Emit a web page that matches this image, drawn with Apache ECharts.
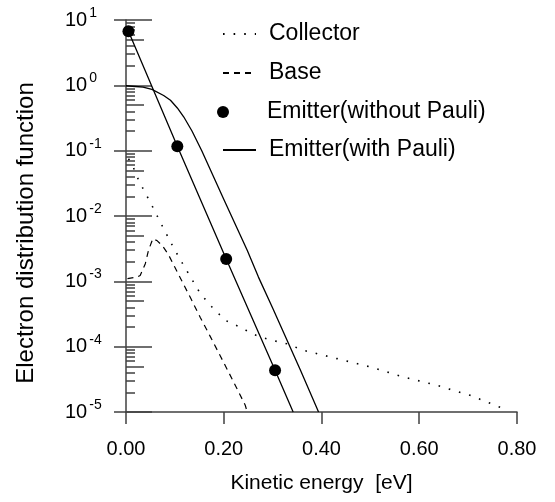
<!DOCTYPE html>
<html>
<head>
<meta charset="utf-8">
<script src="https://cdn.jsdelivr.net/npm/echarts@6/dist/echarts.min.js"></script>
<style>
  html, body { margin: 0; padding: 0; background: #fff; }
  #chart { width: 555px; height: 502px; }
</style>
</head>
<body>
<div id="chart"></div>
<script>
// values (energy in eV, distribution function)
const collectorE = [0.005, 0.012, 0.026, 0.053, 0.077, 0.097, 0.118, 0.142, 0.152, 0.176, 0.203, 0.24, 0.254, 0.275, 0.299, 0.329, 0.363, 0.432, 0.5, 0.568, 0.636, 0.704, 0.772, 0.78]
const collectorF = [0.075, 0.063, 0.035, 0.0145, 0.0064, 0.0033, 0.00175, 0.00087, 0.00065, 0.000405, 0.000253, 0.000189, 0.000162, 0.000141, 0.000125, 0.000111, 0.000088, 0.0000656, 0.0000489, 0.0000343, 0.0000256, 0.000018, 0.0000113, 0.0000105]

const baseE = [0.003, 0.0225, 0.029, 0.0395, 0.046, 0.055, 0.064, 0.075, 0.087, 0.1, 0.1146, 0.133, 0.152, 0.172, 0.193, 0.22, 0.244, 0.248]
const baseF = [0.0011, 0.00116, 0.00123, 0.00186, 0.00298, 0.0045, 0.00417, 0.00347, 0.00255, 0.00164, 0.001, 0.00054, 0.00028, 0.000145, 0.000072, 0.000029, 0.0000127, 0.00001]

const noPauliE = [0.005, 0.105, 0.205, 0.305, 0.342]
const noPauliF = [6.74, 0.117, 0.0022, 0.0000435, 0.00001]
const noPauliDots = 4 // the last point only ends the line

const pauliE = [0, 0.02, 0.035, 0.053, 0.077, 0.091, 0.105, 0.118, 0.135, 0.155, 0.2, 0.248, 0.271, 0.3, 0.357, 0.394]
const pauliF = [0.985, 0.96, 0.937, 0.865, 0.7, 0.59, 0.45, 0.33, 0.2, 0.1, 0.018, 0.003, 0.00116, 0.00039, 0.0000435, 0.00001]

const xTicks = [0, 0.2, 0.4, 0.6, 0.8]
const yDecades = [1e-5, 1e-4, 1e-3, 1e-2, 1e-1, 1, 10]
const minorMant = [2, 3, 4, 6, 7, 8, 9]

const font = 'Liberation Sans, Arial, Helvetica, sans-serif'
const axisColor = '#404040'

const pairs = (xs, ys) => xs.map((x, i) => [x, ys[i]])

// minor tick positions inside each decade
const minorVals = []
const fiveVals = []
yDecades.slice(0, -1).forEach(d => {
  minorMant.forEach(m => minorVals.push(+(d * m).toPrecision(3)))
  fiveVals.push(+(d * 5).toPrecision(3))
})

const logAxis = extra => Object.assign({
  type: 'log',
  logBase: 10,
  min: 1e-5,
  max: 10,
  position: 'left',
  axisLine: { show: false },
  splitLine: { show: false },
  axisLabel: { show: false },
  axisTick: { show: false }
}, extra)

const tickStyle = { color: axisColor, width: 1.5 }

// one legend per row so the dot can sit left like in the original
const legendRow = (name, top, extra) => Object.assign({
  data: [name],
  left: 222,
  top,
  orient: 'vertical',
  padding: 0,
  itemWidth: 33,
  itemHeight: 12,
  selectedMode: false,
  itemStyle: { opacity: 0 }, // hide the symbol drawn on line icons
  textStyle: { fontSize: 23, fontFamily: font, color: '#000', lineHeight: 24, padding: [0, 0, 0, 8] }
}, extra)

const chart = echarts.init(document.getElementById('chart'))

chart.setOption({
  animation: false,
  backgroundColor: '#fff',
  textStyle: { fontFamily: font },
  grid: { left: 126, right: 38, top: 20, bottom: 90, containLabel: false },
  legend: [
    legendRow('Collector', 22),
    legendRow('Base', 61),
    legendRow({ name: 'Emitter(without Pauli)', icon: 'circle' }, 100, {
      left: 217,
      itemWidth: 14,
      itemStyle: { color: '#000' },
      textStyle: { fontSize: 23, fontFamily: font, color: '#000', lineHeight: 24, padding: [0, 0, 0, 32] }
    }),
    legendRow('Emitter(with Pauli)', 138)
  ],
  xAxis: {
    type: 'value',
    min: 0,
    max: 0.8,
    interval: 0.2,
    axisLine: { show: true, onZero: false, lineStyle: tickStyle },
    axisTick: { show: true, length: 12, lineStyle: tickStyle, customValues: xTicks },
    splitLine: { show: false },
    axisLabel: {
      customValues: xTicks,
      margin: 27,
      fontSize: 20,
      color: '#000',
      fontFamily: font,
      formatter: v => v.toFixed(2)
    },
    name: 'Kinetic energy  [eV]',
    nameLocation: 'middle',
    nameGap: 61,
    nameTextStyle: { fontSize: 21, color: '#000', fontFamily: font }
  },
  yAxis: [
    logAxis({
      axisLine: { show: true, lineStyle: tickStyle },
      axisTick: { show: true, inside: false, length: 12, lineStyle: tickStyle, customValues: yDecades },
      axisLabel: {
        show: true,
        customValues: yDecades,
        align: 'left',
        margin: 61,
        color: '#000',
        formatter: v => '{b|10}{s|' + Math.round(Math.log10(v)) + '}',
        rich: {
          b: { fontSize: 20, lineHeight: 20, fontFamily: font, color: '#000', verticalAlign: 'middle' },
          s: { fontSize: 14, lineHeight: 14, fontFamily: font, color: '#000', verticalAlign: 'middle', padding: [0, 0, 14, 2] }
        }
      },
      name: 'Electron distribution function',
      nameLocation: 'middle',
      nameGap: 88,
      nameTextStyle: { fontSize: 24, color: '#000', fontFamily: font, padding: [0, 34, 0, 0] }
    }),
    logAxis({ axisTick: { show: true, inside: true, length: 26, lineStyle: tickStyle, customValues: yDecades } }),
    logAxis({ axisTick: { show: true, inside: true, length: 9, lineStyle: tickStyle, customValues: minorVals } }),
    logAxis({ axisTick: { show: true, inside: true, length: 18, lineStyle: tickStyle, customValues: fiveVals } })
  ],
  series: [
    {
      name: 'Collector',
      type: 'line',
      symbol: 'none',
      color: '#000',
      lineStyle: { color: '#000', width: 1.6, type: [1.6, 9] },
      data: pairs(collectorE, collectorF)
    },
    {
      name: 'Base',
      type: 'line',
      symbol: 'none',
      color: '#000',
      lineStyle: { color: '#000', width: 1.2, type: [6, 5] },
      data: pairs(baseE, baseF)
    },
    {
      name: 'Emitter(without Pauli)',
      type: 'line',
      symbol: 'circle',
      symbolSize: 12,
      showSymbol: true,
      color: '#000',
      itemStyle: { color: '#000' },
      lineStyle: { color: '#000', width: 1.3 },
      data: pairs(noPauliE, noPauliF).map((p, i) => ({ value: p, symbol: i < noPauliDots ? 'circle' : 'none' }))
    },
    {
      name: 'Emitter(with Pauli)',
      type: 'line',
      symbol: 'none',
      color: '#000',
      lineStyle: { color: '#000', width: 1.3 },
      data: pairs(pauliE, pauliF)
    }
  ]
})
</script>
</body>
</html>
